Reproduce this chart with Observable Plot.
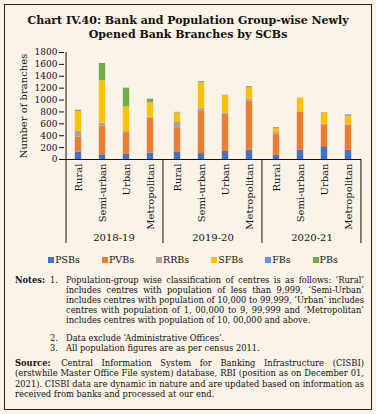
<!DOCTYPE html>
<html><head><meta charset="utf-8">
<script src="https://cdn.jsdelivr.net/npm/d3@7"></script>
<script src="https://cdn.jsdelivr.net/npm/@observablehq/plot@0.6"></script>
<style>
html,body{margin:0;padding:0;background:#FAF3E8;}
#wrap{position:relative;width:376px;height:414px;overflow:hidden;font-family:"DejaVu Serif",serif;color:#111;background:#FAF3E8;}
#box{position:absolute;left:4px;top:4px;width:368px;height:406px;border:1.3px solid #222;box-sizing:border-box;}
#title{position:absolute;left:0;width:376px;top:14px;text-align:center;font-weight:bold;font-size:11px;line-height:14px;}
#chart{position:absolute;left:0;top:46px;}
#legend{position:absolute;left:0;width:386px;top:254px;display:flex;justify-content:center;gap:22px;font-size:9.5px;}
#legend span.sw{display:inline-block;width:6px;height:6px;margin-right:1px;}
#legend .it{display:flex;align-items:center;}
#notes{position:absolute;left:15px;width:349px;top:275px;font-size:8.3px;line-height:10px;}
.row{display:flex;}
.lab{width:35px;flex:none;font-weight:bold;}
.num{width:16px;flex:none;}
.txt{flex:1;text-align:justify;}
.src{margin:5px 0 0 0;text-align:justify;font-size:8.36px;line-height:10.3px;}
.src b{margin-right:2px;}
</style></head>
<body>
<div id="wrap">
<div id="box"></div>
<div id="title">Chart IV.40: Bank and Population Group-wise Newly<br>Opened Bank Branches by SCBs</div>
<div id="chart"></div>
<div id="legend"></div>
<div id="notes">
<div class="row" style="margin-bottom:8px"><span class="lab">Notes:</span><span class="num">1.</span><span class="txt">Population-group wise classification of centres is as follows: ‘Rural’ includes centres with population of less than 9,999, ‘Semi-Urban’ includes centres with population of 10,000 to 99,999, ‘Urban’ includes centres with population of 1, 00,000 to 9, 99,999 and ‘Metropolitan’ includes centres with population of 10, 00,000 and above.</span></div>
<div class="row"><span class="lab"></span><span class="num">2.</span><span class="txt">Data exclude ‘Administrative Offices’.</span></div>
<div class="row"><span class="lab"></span><span class="num">3.</span><span class="txt">All population figures are as per census 2011.</span></div>
<p class="src"><b>Source:</b> Central Information System for Banking Infrastructure (CISBI) (erstwhile Master Office File system) database, RBI (position as on December 01, 2021). CISBI data are dynamic in nature and are updated based on information as received from banks and processed at our end.</p>
</div>
</div>
<script>
const categories = ["Rural", "Semi-urban", "Urban", "Metropolitan"];
const years = ["2018-19", "2019-20", "2020-21"];
const banks = ["PSBs", "PVBs", "RRBs", "SFBs", "FBs", "PBs"];
const colors = ["#4472C4", "#ED7D31", "#A5A5A5", "#FFC000", "#5B9BD5", "#70AD47"];
const yTicks = [0, 200, 400, 600, 800, 1000, 1200, 1400, 1600, 1800];
const yLabel = "Number of branches";
// values in order: 2018-19 (Rural, Semi-urban, Urban, Metropolitan), 2019-20 (...), 2020-21 (...)
const PSBs = [125, 80, 85, 110, 120, 100, 135, 155, 70, 160, 215, 160];
const PVBs = [255, 485, 365, 585, 415, 710, 620, 830, 360, 640, 370, 415];
const RRBs = [95, 45, 25, 20, 100, 45, 25, 30, 35, 5, 10, 10];
const SFBs = [330, 710, 405, 240, 145, 440, 295, 190, 55, 230, 190, 145];
const FBs = [5, 5, 5, 5, 3, 15, 5, 5, 15, 0, 5, 20];
const PBs = [20, 290, 315, 55, 10, 0, 0, 15, 0, 0, 0, 0];

const series = {PSBs, PVBs, RRBs, SFBs, FBs, PBs};
const data = [];
years.forEach((yr, yi) => categories.forEach((c, ci) => banks.forEach(b =>
  data.push({year: yr, cat: c, bank: b, value: series[b][yi * 4 + ci]}))));

const lastCats = years.map(y => ({year: y, cat: categories[categories.length - 1]}));
const firstCat = [{year: years[0], cat: categories[0]}];

const plot = Plot.plot({
  width: 376, height: 204,
  marginLeft: 63, marginRight: 14, marginTop: 6, marginBottom: 91,
  style: {background: "transparent", fontFamily: "DejaVu Serif", fontSize: "9px", color: "#111", overflow: "visible"},
  fx: {domain: years, padding: 0},
  x: {domain: categories, padding: 0},
  y: {domain: [0, 1800]},
  color: {domain: banks, range: colors},
  marks: [
    Plot.barY(data, {fx: "year", x: "cat", y: "value", fill: "bank", order: banks, insetLeft: 8.8, insetRight: 8.8}),
    Plot.ruleY([0], {stroke: "#111", strokeWidth: 1}),
    Plot.ruleX(lastCats, {fx: "year", x: "cat", dx: 12.45, insetTop: 107, insetBottom: -84, stroke: "#111"}),
    Plot.ruleX(firstCat, {fx: "year", x: "cat", dx: -12.45, insetBottom: -84, stroke: "#111"}),
    Plot.axisY({ticks: yTicks, tickFormat: d => String(d), tickSize: 5, tickPadding: 2, fontSize: 9, label: null}),
    Plot.text(firstCat, {fx: "year", text: () => yLabel, frameAnchor: "left", textAnchor: "middle", lineAnchor: "middle", rotate: -90, dx: -41, fontSize: 10, fill: "#111"}),
    Plot.axisX({tickRotate: -90, tickSize: 0, tickPadding: 4, fontSize: 10, label: null}),
    Plot.axisFx({anchor: "bottom", tickSize: 0, tickPadding: 74, fontSize: 10, label: null})
  ]
});
document.getElementById("chart").appendChild(plot);

const leg = d3.select("#legend");
banks.forEach((b, i) => {
  const it = leg.append("div").attr("class", "it");
  it.append("span").attr("class", "sw").style("background", colors[i]);
  it.append("span").text(b);
});
</script>
</body></html>
